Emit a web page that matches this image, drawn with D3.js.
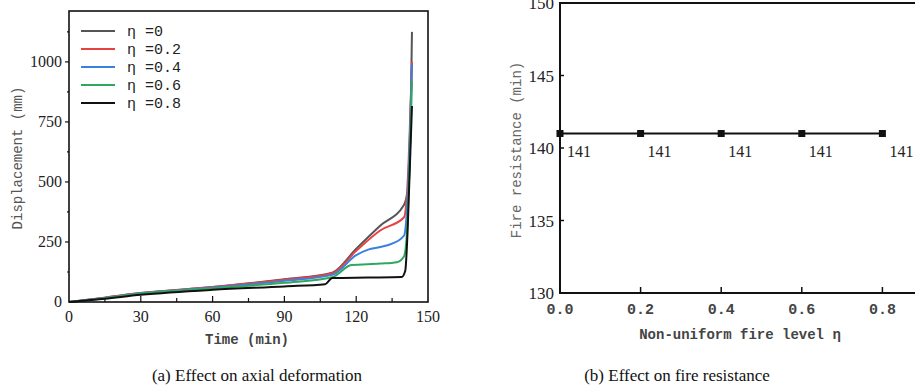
<!DOCTYPE html>
<html>
<head>
<meta charset="utf-8">
<script src="https://cdn.jsdelivr.net/npm/d3@7"></script>
<style>
  body { margin: 0; background: #fff; }
  svg { display: block; }
</style>
</head>
<body>
<div class="root"></div>
<script>
const width = 915;
const height = 389;

// (a) axial displacement vs time, one series per non-uniform fire level
const seriesNames = ["η =0", "η =0.2", "η =0.4", "η =0.6", "η =0.8"];
const seriesColors = ["#555555", "#e8413f", "#3b7fe3", "#2fa85e", "#111111"];
const eta0 = [[0, 0], [15, 18], [30, 37], [60, 62], [90, 95], [110, 122], [120, 222], [130, 318], [140, 405], [142, 500], [143.3, 1125]];
const eta02 = [[0, 0], [15, 18], [30, 37], [60, 62], [90, 93], [110, 120], [120, 213], [130, 298], [140, 353], [141.5, 500], [143.3, 1000]];
const eta04 = [[0, 0], [15, 17], [30, 36], [60, 60], [90, 88], [110, 113], [120, 195], [125, 218], [130, 229], [135, 243], [140, 277], [141.3, 400], [143.3, 990]];
const eta06 = [[0, 0], [15, 16], [30, 35], [60, 57], [90, 80], [110, 103], [118, 154], [130, 160], [137, 166], [140, 191], [141, 260], [143.3, 920]];
const eta08 = [[0, 0], [15, 14], [30, 30], [60, 51], [90, 65], [107, 74], [110, 100], [125, 102], [139, 104], [140.5, 130], [141.5, 300], [143.3, 816]];
const seriesData = [eta0, eta02, eta04, eta06, eta08];
const timeTicks = [0, 30, 60, 90, 120, 150];
const dispTicks = [0, 250, 500, 750, 1000];

// (b) fire resistance vs non-uniform fire level
const levels = [0, 0.2, 0.4, 0.6, 0.8];
const resistance = [141, 141, 141, 141, 141];
const levelTicks = [0, 0.2, 0.4, 0.6, 0.8];
const resistTicks = [130, 135, 140, 145, 150];

const svg = d3.select(".root").append("svg")
  .attr("width", width)
  .attr("height", height);

const serif = "'Liberation Serif', 'Times New Roman', serif";
const mono = "'Liberation Mono', 'DejaVu Sans Mono', monospace";

// ---------- chart (a) ----------
const x1 = d3.scaleLinear().domain([0, 150]).range([69, 428]);
const y1 = d3.scaleLinear().domain([0, 1212]).range([302, 11]);

const gA = svg.append("g");

// minor ticks
const xMinor = d3.range(15, 150, 30);
gA.selectAll(".xminor").data(xMinor).join("line")
  .attr("x1", d => x1(d)).attr("x2", d => x1(d))
  .attr("y1", y1(0)).attr("y2", y1(0) - 4)
  .attr("stroke", "#111").attr("stroke-width", 1.2);
gA.selectAll(".xmajor").data(timeTicks.slice(1, -1)).join("line")
  .attr("x1", d => x1(d)).attr("x2", d => x1(d))
  .attr("y1", y1(0)).attr("y2", y1(0) - 6)
  .attr("stroke", "#111").attr("stroke-width", 1.2);
const yMinor = d3.range(125, 1212, 250);
gA.selectAll(".yminor").data(yMinor).join("line")
  .attr("x1", x1(0)).attr("x2", x1(0) - 2)
  .attr("y1", d => y1(d)).attr("y2", d => y1(d))
  .attr("stroke", "#111").attr("stroke-width", 1.2);
gA.selectAll(".ymajor").data(dispTicks.slice(1)).join("line")
  .attr("x1", x1(0)).attr("x2", x1(0) - 4)
  .attr("y1", d => y1(d)).attr("y2", d => y1(d))
  .attr("stroke", "#111").attr("stroke-width", 1.2);

// tick labels
gA.selectAll(".xlab").data(timeTicks).join("text")
  .attr("x", d => x1(d)).attr("y", 322)
  .attr("text-anchor", "middle")
  .attr("font-family", serif).attr("font-size", 16).attr("fill", "#222")
  .text(d => d);
gA.selectAll(".ylab").data(dispTicks).join("text")
  .attr("x", 62).attr("y", d => y1(d) + 5)
  .attr("text-anchor", "end")
  .attr("font-family", serif).attr("font-size", 16).attr("fill", "#222")
  .text(d => d);

// lines
const lineA = d3.line()
  .x(d => x1(d[0]))
  .y(d => y1(d[1]))
  .curve(d3.curveMonotoneX);

gA.selectAll(".series").data(seriesData).join("path")
  .attr("d", lineA)
  .attr("fill", "none")
  .attr("stroke", (d, i) => seriesColors[i])
  .attr("stroke-width", 2)
  .attr("stroke-linejoin", "round");

// frame
gA.append("rect")
  .attr("x", x1(0)).attr("y", y1(1212))
  .attr("width", x1(150) - x1(0)).attr("height", y1(0) - y1(1212))
  .attr("fill", "none").attr("stroke", "#111").attr("stroke-width", 1.6);

// legend
const legend = gA.selectAll(".leg").data(seriesNames).join("g")
  .attr("transform", (d, i) => `translate(81, ${31 + i * 18})`);
legend.append("line")
  .attr("x1", 0).attr("x2", 34)
  .attr("stroke", (d, i) => seriesColors[i])
  .attr("stroke-width", 2);
legend.append("text")
  .attr("x", 46).attr("y", 5)
  .attr("font-family", mono).attr("font-size", 15).attr("fill", "#222")
  .text(d => d);

// axis titles
gA.append("text")
  .attr("x", 247).attr("y", 344)
  .attr("text-anchor", "middle")
  .attr("font-family", mono).attr("font-size", 14).attr("font-weight", "bold").attr("fill", "#444")
  .text("Time (min)");
gA.append("text")
  .attr("transform", "translate(22, 158) rotate(-90)")
  .attr("text-anchor", "middle")
  .attr("font-family", mono).attr("font-size", 14).attr("fill", "#555")
  .text("Displacement (mm)");
gA.append("text")
  .attr("x", 257).attr("y", 381)
  .attr("text-anchor", "middle")
  .attr("font-family", serif).attr("font-size", 17).attr("fill", "#111")
  .text("(a) Effect on axial deformation");

// ---------- chart (b) ----------
const x2 = d3.scaleLinear().domain([0, 1]).range([560, 963]);
const y2 = d3.scaleLinear().domain([130, 150]).range([293, 3]);

const gB = svg.append("g");

gB.selectAll(".xt").data(levelTicks.slice(1)).join("line")
  .attr("x1", d => x2(d)).attr("x2", d => x2(d))
  .attr("y1", y2(130)).attr("y2", y2(130) - 6)
  .attr("stroke", "#111").attr("stroke-width", 1.5);
gB.selectAll(".yt").data(resistTicks.slice(1, -1)).join("line")
  .attr("x1", x2(0)).attr("x2", x2(0) + 4)
  .attr("y1", d => y2(d)).attr("y2", d => y2(d))
  .attr("stroke", "#111").attr("stroke-width", 1.5);

gB.selectAll(".xlab").data(levelTicks).join("text")
  .attr("x", d => x2(d)).attr("y", 314)
  .attr("text-anchor", "middle")
  .attr("font-family", mono).attr("font-size", 15).attr("font-weight", "bold").attr("fill", "#444")
  .text(d => d3.format(".1f")(d));
gB.selectAll(".ylab").data(resistTicks).join("text")
  .attr("x", 554).attr("y", d => y2(d) + 6)
  .attr("text-anchor", "end")
  .attr("font-family", serif).attr("font-size", 17).attr("fill", "#222")
  .text(d => d);

const lineB = d3.line()
  .x((d, i) => x2(levels[i]))
  .y(d => y2(d));
gB.append("path")
  .datum(resistance)
  .attr("d", lineB)
  .attr("fill", "none")
  .attr("stroke", "#111").attr("stroke-width", 1.8);
gB.selectAll(".pt").data(resistance).join("rect")
  .attr("x", (d, i) => x2(levels[i]) - 3.5)
  .attr("y", d => y2(d) - 3.5)
  .attr("width", 7).attr("height", 7)
  .attr("fill", "#111");
gB.selectAll(".val").data(resistance).join("text")
  .attr("x", (d, i) => x2(levels[i]) + 7)
  .attr("y", d => y2(d) + 23)
  .attr("font-family", serif).attr("font-size", 16).attr("fill", "#222")
  .text(d => d);

gB.append("rect")
  .attr("x", x2(0)).attr("y", y2(150))
  .attr("width", x2(1) - x2(0)).attr("height", y2(130) - y2(150))
  .attr("fill", "none").attr("stroke", "#111").attr("stroke-width", 2);

gB.append("text")
  .attr("x", 740).attr("y", 339)
  .attr("text-anchor", "middle")
  .attr("font-family", mono).attr("font-size", 14).attr("font-weight", "bold").attr("fill", "#444")
  .text("Non-uniform fire level η");
gB.append("text")
  .attr("transform", "translate(521, 150) rotate(-90)")
  .attr("text-anchor", "middle")
  .attr("font-family", mono).attr("font-size", 14).attr("fill", "#666")
  .text("Fire resistance (min)");
gB.append("text")
  .attr("x", 677).attr("y", 381)
  .attr("text-anchor", "middle")
  .attr("font-family", serif).attr("font-size", 17).attr("fill", "#111")
  .text("(b)  Effect on fire resistance");
</script>
</body>
</html>
